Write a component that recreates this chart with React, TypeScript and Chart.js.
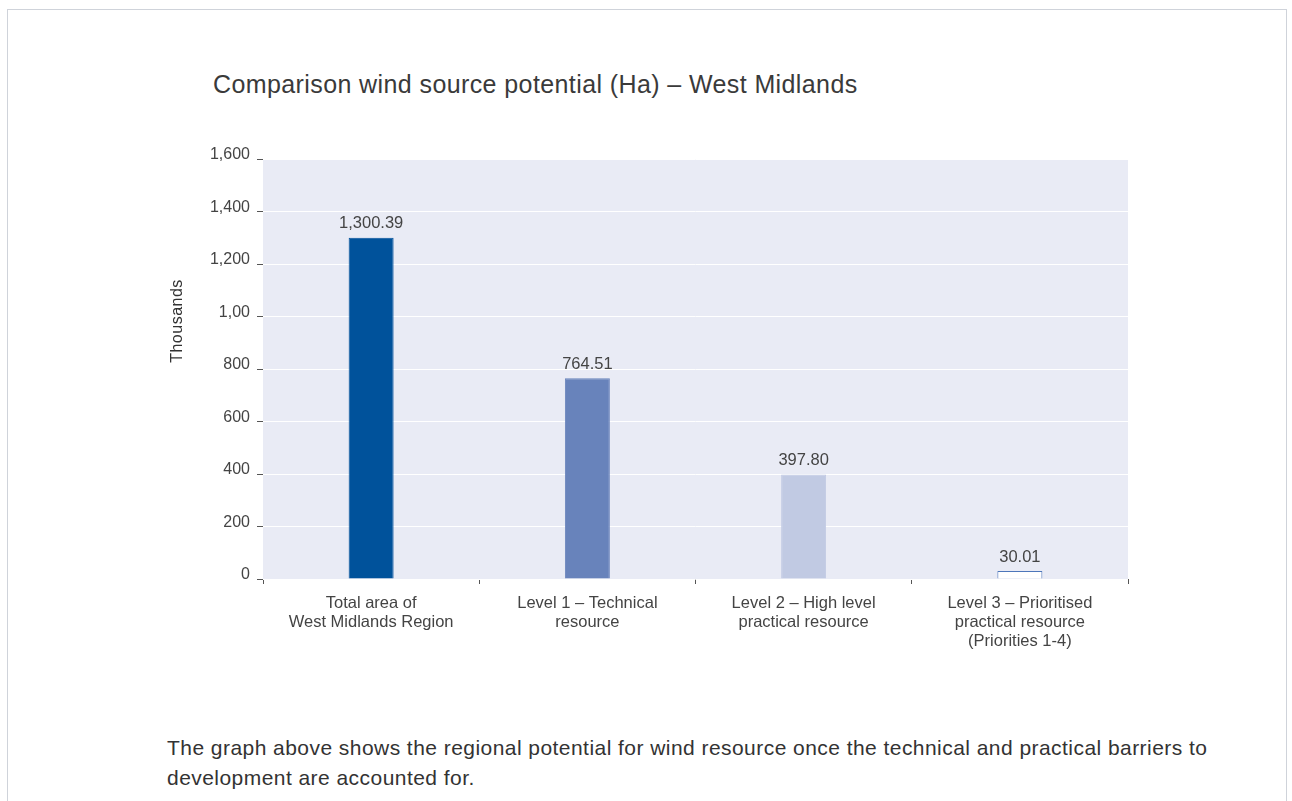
import React, { useEffect, useRef } from "react";
import { Chart, registerables } from "chart.js";

Chart.register(...registerables);

const title = "Comparison wind source potential (Ha) – West Midlands";
const categories: string[][] = [
  ["Total area of", "West Midlands Region"],
  ["Level 1 – Technical", "resource"],
  ["Level 2 – High level", "practical resource"],
  ["Level 3 – Prioritised", "practical resource", "(Priorities 1-4)"],
];
const values = [1300.39, 764.51, 397.8, 30.01];
const valueLabels = ["1,300.39", "764.51", "397.80", "30.01"];
const barColors = ["#00529b", "#6883bb", "#c1cae3", "#ffffff"];
const barBorders = ["#00529b", "#6883bb", "#c1cae3", "#4d76ba"];
const yTickValues = [0, 200, 400, 600, 800, 1000, 1200, 1400, 1600];
const yTickLabels = ["0", "200", "400", "600", "800", "1,00", "1,200", "1,400", "1,600"];
const yAxisTitle = "Thousands";
const caption =
  "The graph above shows the regional potential for wind resource once the technical and practical barriers to";
const caption2 = "development are accounted for.";

const FONT = "'Liberation Sans', Arial, sans-serif";

export default function App() {
  const ref = useRef<HTMLCanvasElement | null>(null);

  useEffect(() => {
    if (!ref.current) return;
    const bgPlugin = {
      id: "bgPlugin",
      beforeDraw(chart: any) {
        const { ctx, chartArea } = chart;
        ctx.save();
        ctx.fillStyle = "#e9ebf5";
        ctx.fillRect(chartArea.left, chartArea.top, chartArea.right - chartArea.left, chartArea.bottom - chartArea.top);
        ctx.restore();
      },
      afterDraw(chart: any) {
        const { ctx } = chart;
        ctx.save();
        ctx.fillStyle = "#333";
        ctx.font = `16px ${FONT}`;
        try {
          (ctx as any).letterSpacing = "0.5px";
        } catch (e) {}
        ctx.textAlign = "center";
        ctx.textBaseline = "middle";
        ctx.translate(28, 181);
        ctx.rotate(-Math.PI / 2);
        ctx.fillText(yAxisTitle, 0, 0);
        ctx.restore();
      },
      afterDatasetsDraw(chart: any) {
        const { ctx } = chart;
        const meta = chart.getDatasetMeta(0);
        ctx.save();
        ctx.fillStyle = "#444";
        ctx.font = `16.5px ${FONT}`;
        ctx.textAlign = "center";
        ctx.textBaseline = "middle";
        meta.data.forEach((el: any, i: number) => {
          ctx.fillText(valueLabels[i], el.x, el.y - 14);
        });
        ctx.restore();
      },
    };

    const chart = new Chart(ref.current, {
      type: "bar",
      data: {
        labels: categories,
        datasets: [
          {
            data: values,
            backgroundColor: barColors,
            borderColor: barBorders,
            borderWidth: 1,
            categoryPercentage: 1,
            barPercentage: 0.208,
          },
        ],
      },
      options: {
        responsive: false,
        animation: false,
        layout: { padding: { top: 19, right: 10, left: 0, bottom: 0 } },
        plugins: {
          legend: { display: false },
          tooltip: { enabled: false },
        },
        scales: {
          x: {
            afterFit(scale: any) {
              scale.height = 101;
            },
            border: { display: false },
            grid: {
              offset: true,
              drawOnChartArea: false,
              tickLength: 5,
              tickColor: "#555",
            },
            ticks: {
              color: "#444",
              font: { family: FONT, size: 16.5, lineHeight: 1.15 },
              padding: 10,
              maxRotation: 0,
              autoSkip: false,
            },
          },
          y: {
            min: 0,
            max: 1600,
            afterFit(scale: any) {
              scale.width = 113;
            },
            afterBuildTicks(scale: any) {
              scale.ticks = yTickValues.map((v) => ({ value: v }));
            },
            border: { display: false },
            grid: {
              color: "#ffffff",
              lineWidth: 1,
              tickLength: 6,
              tickColor: "#555",
            },
            ticks: {
              color: "#444",
              font: { family: FONT, size: 16 },
              padding: 7,
              labelOffset: -4,
              callback: (value: any) => {
                const idx = yTickValues.indexOf(Number(value));
                return idx >= 0 ? yTickLabels[idx] : "";
              },
            },
          },
        },
      },
      plugins: [bgPlugin],
    });
    return () => chart.destroy();
  }, []);

  return (
    <div
      style={{
        position: "absolute",
        left: 7,
        top: 9,
        width: 1278,
        height: 820,
        borderTop: "1px solid #cfd3da",
        borderLeft: "1px solid #cfd3da",
        borderRight: "1px solid #cfd3da",
        background: "#fff",
        fontFamily: FONT,
        color: "#333",
      }}
    >
      <div
        style={{
          position: "absolute",
          left: 205,
          top: 58,
          fontSize: 25,
          letterSpacing: "0.4px",
          whiteSpace: "nowrap",
          color: "#3a3a3a",
          lineHeight: "32px",
        }}
      >
        {title}
      </div>
      <div style={{ position: "absolute", left: 142, top: 130 }}>
        <canvas ref={ref} width={988} height={540} style={{ display: "block", width: 988, height: 540 }} />
      </div>
      <div
        style={{
          position: "absolute",
          left: 159,
          top: 723,
          fontSize: 21,
          letterSpacing: "0.45px",
          lineHeight: "30px",
          whiteSpace: "nowrap",
          color: "#333",
        }}
      >
        {caption}
        <br />
        {caption2}
      </div>
    </div>
  );
}
